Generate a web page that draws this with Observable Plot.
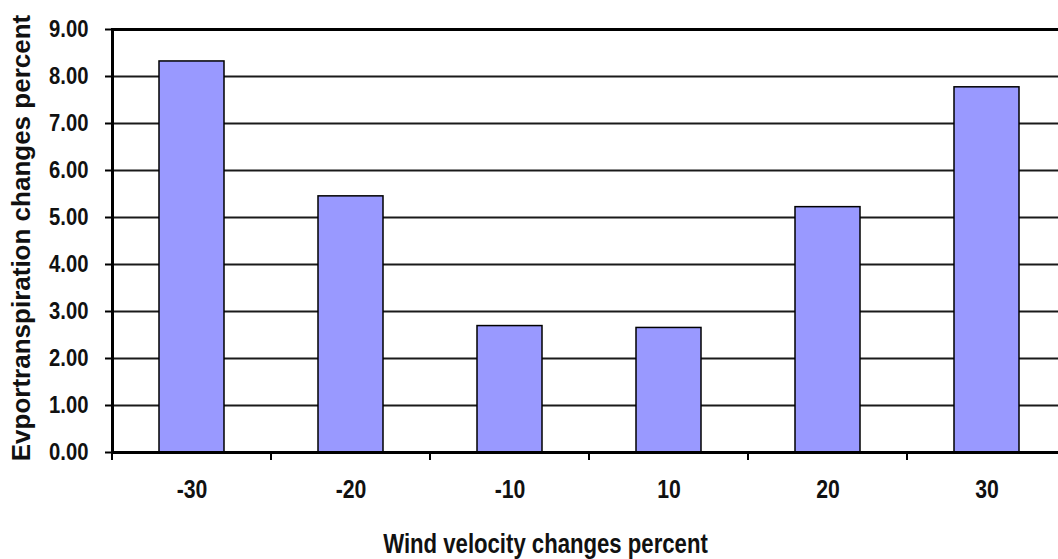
<!DOCTYPE html>
<html>
<head>
<meta charset="utf-8">
<script src="https://cdn.jsdelivr.net/npm/d3@7"></script>
<script src="https://cdn.jsdelivr.net/npm/@observablehq/plot@0.6"></script>
<style>
  html, body { margin: 0; padding: 0; background: #fff; overflow: hidden; }
  #chart svg { display: block; max-width: none !important; }
  #chart .sqyt text { font-size: 23px !important; font-weight: bold; font-family: 'Liberation Sans', Arial, sans-serif; }
  #chart .sqxt text { font-size: 25px !important; font-weight: bold; font-family: 'Liberation Sans', Arial, sans-serif; }
  #chart .sqtitle text { font-size: 27px !important; }
  #chart .ytitle text { font-size: 26px !important; }
</style>
</head>
<body>
<div id="chart"></div>
<script>
// ---- data ----
const categories = ["-30", "-20", "-10", "10", "20", "30"];
const values = [8.32, 5.45, 2.69, 2.65, 5.22, 7.77];
const yTicks = [0, 1, 2, 3, 4, 5, 6, 7, 8, 9];
const gridTicks = [1, 2, 3, 4, 5, 6, 7, 8];
const xTitle = "Wind velocity changes percent";
const yTitle = "Evportranspiration changes percent";

const data = categories.map((c, i) => ({ category: c, value: values[i] }));

const font = "'Liberation Sans', Arial, sans-serif";

// boundary ticks under the x axis (between category slots)
function boundaryTicks(index, scales, values, dimensions) {
  const x = scales.x;
  const bw = x.bandwidth ? x.bandwidth() : 0;
  const step = x.step ? x.step() : (x(categories[1]) - x(categories[0]));
  const y0 = dimensions.height - dimensions.marginBottom;
  const g = d3.create("svg:g").attr("stroke", "black").attr("stroke-width", 2);
  for (const c of categories) {
    const bx = x(c) + bw / 2 - step / 2;
    g.append("line").attr("x1", bx).attr("x2", bx).attr("y1", y0).attr("y2", y0 + 8);
  }
  return g.node();
}

const chart = Plot.plot({
  width: 1070,
  height: 559,
  marginLeft: 112,
  marginRight: 4,
  marginTop: 29,
  marginBottom: 107,
  style: { maxWidth: "none" },
  x: { domain: categories, paddingInner: 0.59, paddingOuter: 0.295, label: null },
  y: { domain: [0, 9], label: null },
  marks: [
    Plot.ruleY(gridTicks, { stroke: "#1a1a1a", strokeWidth: 1.8 }),
    Plot.barY(data, {
      x: "category",
      y: "value",
      fill: "#9999ff",
      stroke: "#000",
      strokeWidth: 1.5
    }),
    Plot.frame({ stroke: "#000", strokeWidth: 3 }),
    Plot.axisY(yTicks, {
      tickFormat: d => d.toFixed(2),
      tickSize: 7,
      tickPadding: 17,
      stroke: "#000",
      strokeWidth: 2,
      fontSize: 23,
      fontWeight: "bold",
      fontFamily: font,
      fill: "#111",
      className: "sqyt",
      label: null
    }),
    Plot.axisX({
      tickSize: 0,
      tickPadding: 28,
      fontSize: 25,
      fontWeight: "bold",
      fontFamily: font,
      fill: "#111",
      className: "sqxt",
      label: null
    }),
    boundaryTicks,
    Plot.text([yTitle], {
      text: d => d,
      frameAnchor: "left",
      rotate: -90,
      dx: -83,
      dy: -3,
      textAnchor: "middle",
      lineAnchor: "bottom",
      fontSize: 26,
      fontWeight: "bold",
      fontFamily: font,
      fill: "#111",
      className: "ytitle"
    }),
    Plot.text([xTitle], {
      text: d => d,
      frameAnchor: "bottom",
      dx: -44,
      dy: 100,
      textAnchor: "middle",
      lineAnchor: "bottom",
      fontSize: 27,
      fontWeight: "bold",
      fontFamily: font,
      fill: "#111",
      className: "sqtitle"
    })
  ]
});

document.getElementById("chart").appendChild(chart);

// condense the bold text horizontally (reference uses a narrow face)
function squeeze(prefix, ratio) {
  chart.querySelectorAll("text").forEach(t => {
    let el = t, hit = false;
    while (el && el !== chart) {
      if (el.classList && [...el.classList].some(c => c.startsWith(prefix))) { hit = true; break; }
      el = el.parentNode;
    }
    if (!hit) return;
    const w = t.getComputedTextLength();
    if (w > 0) {
      t.setAttribute("textLength", (w * ratio).toFixed(1));
      t.setAttribute("lengthAdjust", "spacingAndGlyphs");
    }
  });
}
squeeze("sqyt", 0.88);
squeeze("sqxt", 0.85);
squeeze("sqtitle", 0.82);
</script>
</body>
</html>
